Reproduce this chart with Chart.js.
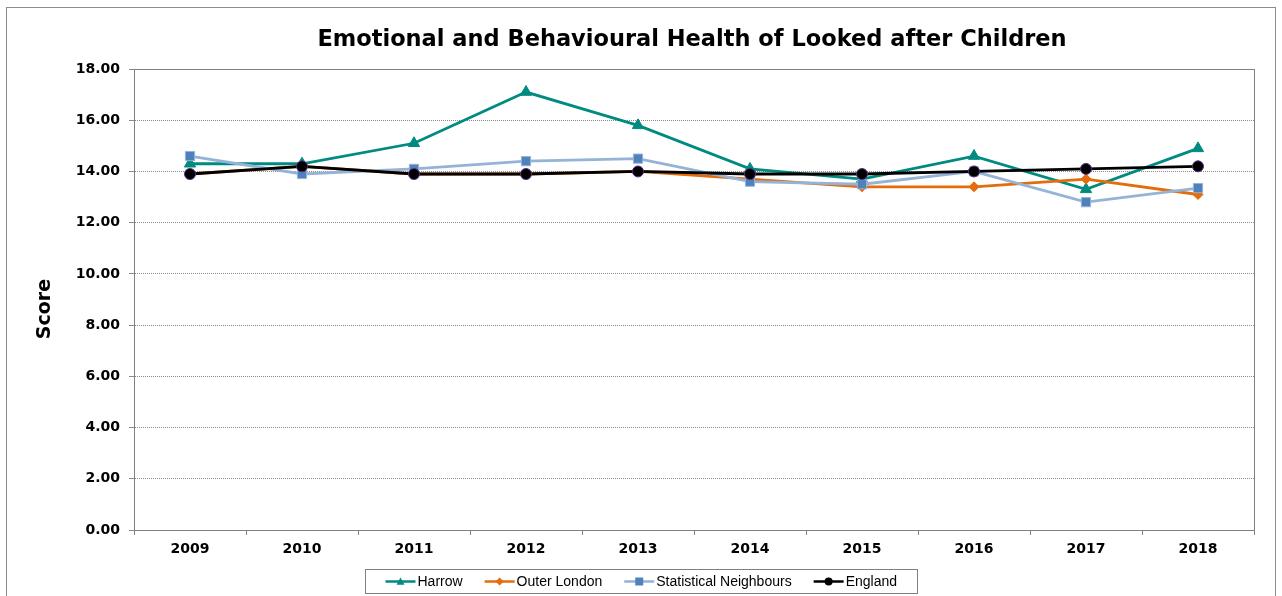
<!DOCTYPE html>
<html>
<head>
<meta charset="utf-8">
<title>Emotional and Behavioural Health of Looked after Children</title>
<script src="https://cdn.jsdelivr.net/npm/chart.js@4"></script>
<style>
  html, body { margin: 0; padding: 0; background: #fff; }
  #wrap { width: 1282px; height: 596px; }
</style>
</head>
<body>
<div id="wrap"><canvas id="chart" width="1282" height="596"></canvas></div>
<script>
const chartTitle = "Emotional and Behavioural Health of Looked after Children";
const axisTitle = "Score";
const years = ["2009", "2010", "2011", "2012", "2013", "2014", "2015", "2016", "2017", "2018"];
const harrow = [14.3, 14.3, 15.1, 17.1, 15.8, 14.1, 13.7, 14.6, 13.3, 14.9];
const outerLondon = [13.9, 14.2, 13.9, 13.9, 14.0, 13.7, 13.4, 13.4, 13.7, 13.1];
const statNeighbours = [14.6, 13.9, 14.1, 14.4, 14.5, 13.6, 13.5, 14.0, 12.8, 13.35];
const england = [13.9, 14.2, 13.9, 13.9, 14.0, 13.9, 13.9, 14.0, 14.1, 14.2];

const legendItems = [
  { text: "Harrow", line: "#008B80", fill: "#008B80", shape: "triangle" },
  { text: "Outer London", line: "#E46C0A", fill: "#E46C0A", shape: "diamond" },
  { text: "Statistical Neighbours", line: "#95B3D7", fill: "#4F81BD", shape: "square" },
  { text: "England", line: "#000000", fill: "#000000", shape: "circle" },
];

const boldFamily = "'DejaVu Sans', Verdana, sans-serif";
const tickFont = { family: boldFamily, size: 14, weight: "bold" };

// outer frame, plot frame, title and axis title
const framePlugin = {
  id: "frame",
  beforeDraw(chart) {
    const ctx = chart.ctx;
    ctx.save();
    ctx.fillStyle = "#fff";
    ctx.fillRect(0, 0, chart.width, chart.height);
    ctx.strokeStyle = "#8c8c8c";
    ctx.lineWidth = 1;
    ctx.strokeRect(6.5, 7.5, chart.width - 13, chart.height + 20);
    ctx.restore();
  },
  afterDatasetsDraw(chart) {
    const a = chart.chartArea;
    const ctx = chart.ctx;
    ctx.save();
    ctx.strokeStyle = "#808080";
    ctx.lineWidth = 1;
    ctx.strokeRect(Math.round(a.left) + 0.5, Math.round(a.top) + 0.5,
      Math.round(a.right - a.left), Math.round(a.bottom - a.top));
    ctx.restore();
  },
  afterDraw(chart) {
    const a = chart.chartArea;
    const ctx = chart.ctx;
    ctx.save();
    ctx.fillStyle = "#000";
    ctx.textAlign = "center";
    ctx.textBaseline = "middle";
    ctx.font = "bold 22.5px " + boldFamily;
    ctx.fillText(chartTitle, (a.left + a.right) / 2 - 2, 40);
    ctx.translate(45, 309);
    ctx.rotate(-Math.PI / 2);
    ctx.font = "bold 19px " + boldFamily;
    ctx.fillText(axisTitle, 0, 0);
    ctx.restore();
  }
};

function drawMarker(ctx, shape, x, y, r) {
  ctx.beginPath();
  if (shape === "triangle") {
    ctx.moveTo(x, y - r);
    ctx.lineTo(x + r, y + r * 0.8);
    ctx.lineTo(x - r, y + r * 0.8);
    ctx.closePath();
  } else if (shape === "diamond") {
    ctx.moveTo(x, y - r);
    ctx.lineTo(x + r, y);
    ctx.lineTo(x, y + r);
    ctx.lineTo(x - r, y);
    ctx.closePath();
  } else if (shape === "square") {
    ctx.rect(x - r, y - r, r * 2, r * 2);
  } else {
    ctx.arc(x, y, r, 0, Math.PI * 2);
  }
  ctx.fill();
}

// boxed legend with line + marker samples
const boxLegend = {
  id: "boxLegend",
  afterDraw(chart) {
    const ctx = chart.ctx;
    ctx.save();
    ctx.font = "14px 'Liberation Sans', Arial, sans-serif";
    const sample = 30, gapText = 2, gapItem = 22, pad = 20;
    let total = 0;
    legendItems.forEach((it, i) => {
      it.w = ctx.measureText(it.text).width;
      total += sample + gapText + it.w + (i > 0 ? gapItem : 0);
    });
    const boxW = total + pad * 2;
    const boxX = Math.round(chart.width / 2 - boxW / 2) + 0.5;
    const boxY = 569.5, boxH = 24;
    ctx.strokeStyle = "#808080";
    ctx.lineWidth = 1;
    ctx.strokeRect(boxX, boxY, Math.round(boxW), boxH);
    const cy = boxY + boxH / 2;
    let x = boxX + pad;
    legendItems.forEach((it) => {
      ctx.strokeStyle = it.line;
      ctx.lineWidth = 2.5;
      ctx.beginPath();
      ctx.moveTo(x, cy);
      ctx.lineTo(x + sample, cy);
      ctx.stroke();
      ctx.fillStyle = it.fill;
      drawMarker(ctx, it.shape, x + sample / 2, cy, 4);
      ctx.fillStyle = "#000";
      ctx.textBaseline = "middle";
      ctx.fillText(it.text, x + sample + gapText, cy + 1);
      x += sample + gapText + it.w + gapItem;
    });
    ctx.restore();
  }
};

function lineSet(label, data, color, style, radius, fill, border, order) {
  return {
    label: label,
    data: data,
    borderColor: color,
    borderWidth: 2.8,
    pointStyle: style,
    pointRadius: radius,
    pointHoverRadius: radius,
    pointBackgroundColor: fill,
    pointBorderColor: border,
    pointBorderWidth: 1,
    tension: 0,
    order: order
  };
}

let chart = new Chart(document.querySelector("#chart"), {
  type: "line",
  data: {
    labels: years,
    datasets: [
      lineSet("Harrow", harrow, "#008B80", "triangle", 6.5, "#008B80", "#008B80", 4),
      lineSet("Outer London", outerLondon, "#E46C0A", "rectRot", 5, "#E46C0A", "#E46C0A", 3),
      lineSet("Statistical Neighbours", statNeighbours, "#95B3D7", "rect", 6.5, "#4F81BD", "#95B3D7", 2),
      lineSet("England", england, "#000000", "circle", 5.5, "#000000", "#5B2C83", 1)
    ]
  },
  options: {
    responsive: false,
    animation: false,
    layout: { padding: { left: 0, right: 28, top: 69, bottom: 36 } },
    plugins: {
      legend: { display: false },
      tooltip: { enabled: false },
      title: { display: false }
    },
    scales: {
      x: {
        offset: true,
        grid: { display: true, drawOnChartArea: false, offset: true, tickLength: 5, color: "#808080" },
        border: { display: true, color: "#808080" },
        ticks: { color: "#000", font: tickFont, padding: 6, maxRotation: 0 },
        afterFit(scale) { scale.height = 30; }
      },
      y: {
        min: 0,
        max: 18,
        ticks: {
          stepSize: 2,
          color: "#000",
          font: tickFont,
          padding: 9,
          callback: (v) => v.toFixed(2)
        },
        grid: { color: "#8a8a8a", tickLength: 5 },
        border: { display: true, color: "#808080", dash: [1, 1] },
        afterFit(scale) { scale.width = 134; }
      }
    }
  },
  plugins: [framePlugin, boxLegend]
});
</script>
</body>
</html>
